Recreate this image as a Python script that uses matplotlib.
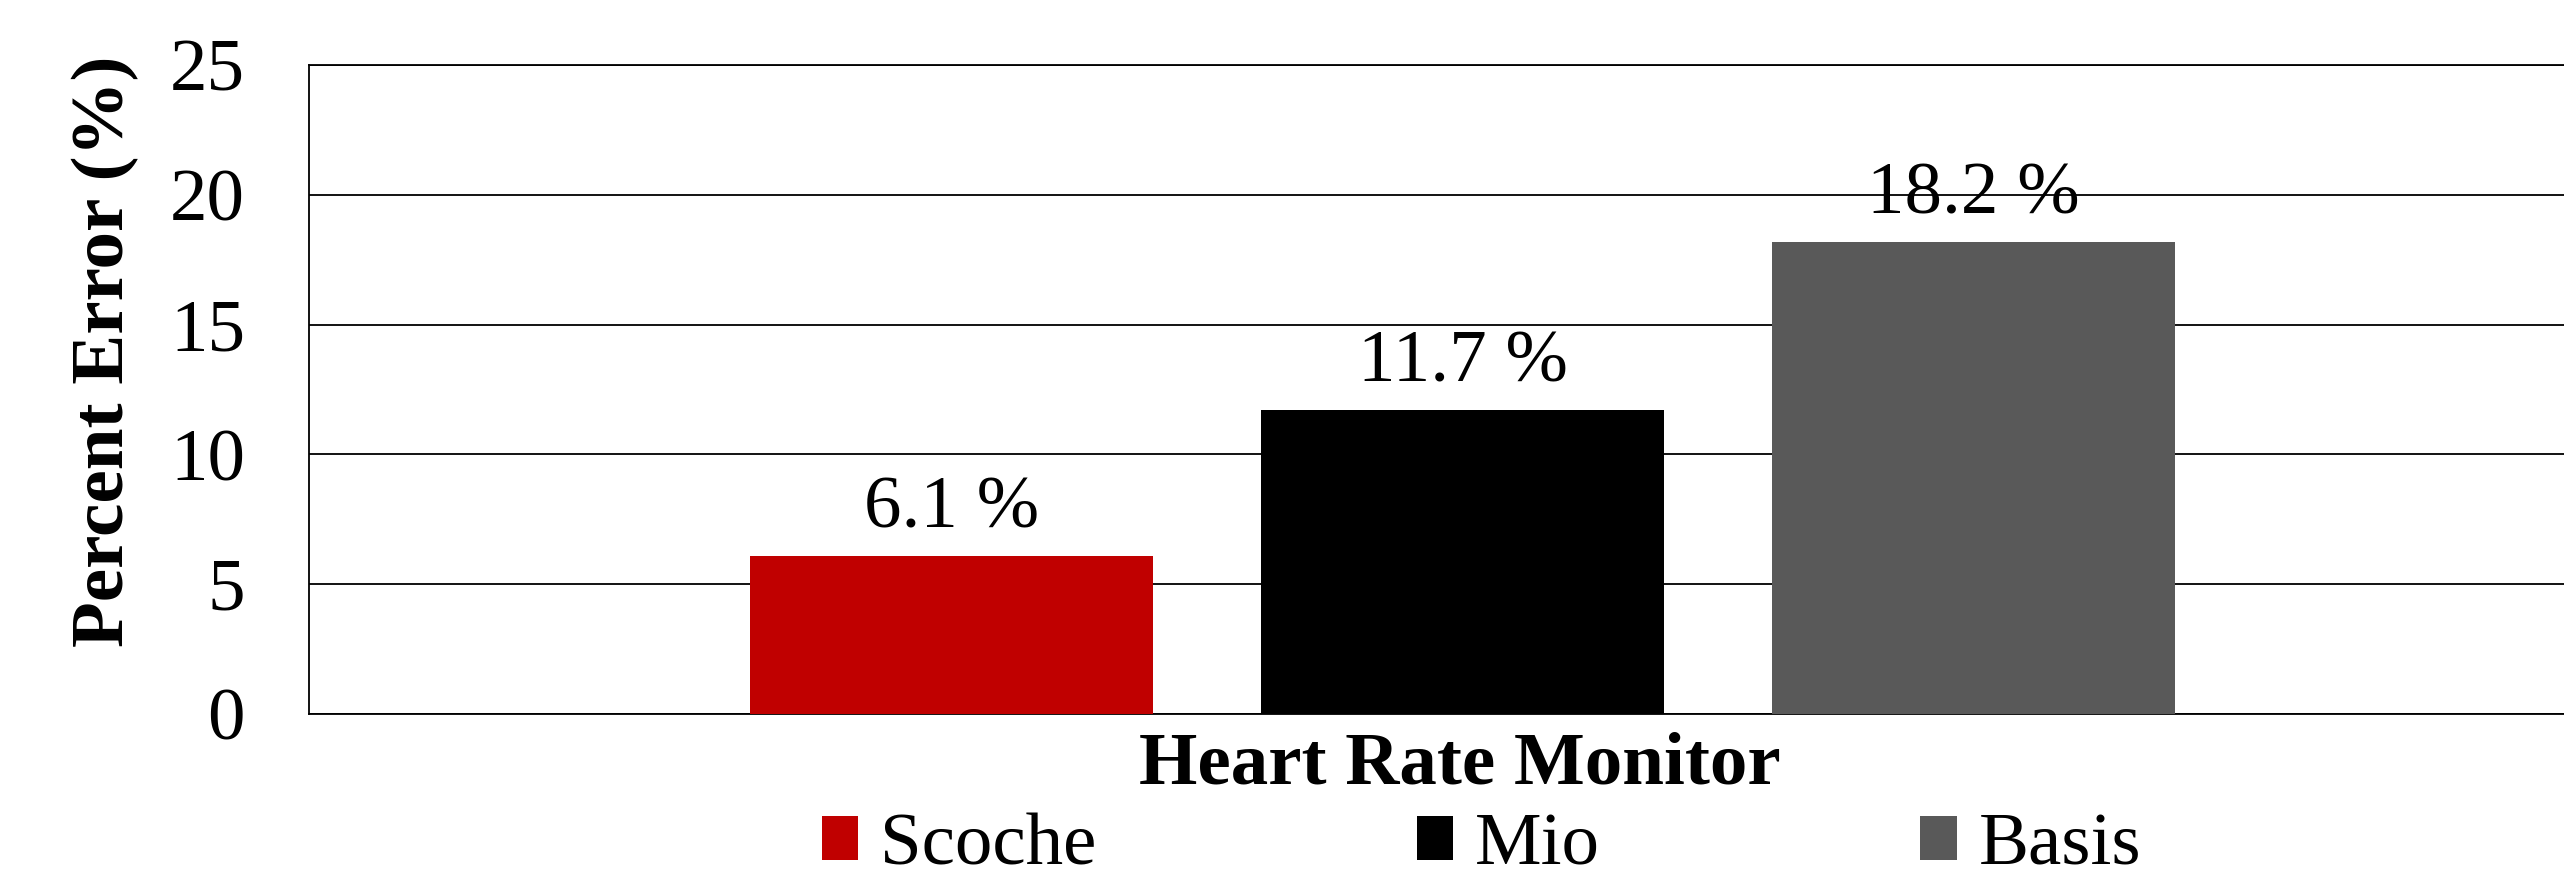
import matplotlib
matplotlib.use("Agg")
import matplotlib.pyplot as plt

# data
monitors = ["Scoche", "Mio", "Basis"]
percent_error = [6.1, 11.7, 18.2]
bar_colors = ["#C00000", "#000000", "#595959"]
y_ticks = [0, 5, 10, 15, 20, 25]

plt.rcParams["font.family"] = ["Liberation Serif", "DejaVu Serif"]
FS = 54

fig = plt.figure(figsize=(25.64, 8.81), dpi=100)
# plot area runs off the right edge, like the original export
ax = fig.add_axes([0.1205, 0.1896, 0.8998, 0.7366])

x = list(range(len(monitors)))
bars = []
for xi, name, val, col in zip(x, monitors, percent_error, bar_colors):
    b = ax.bar(xi, val, width=0.787, color=col, label=name, zorder=3)
    bars.append(b)
    ax.bar_label(b, labels=[f"{val:.1f} %"], padding=9, fontsize=FS)

ax.set_xlim(-1.257, 3.257)
ax.set_ylim(0, 25)
ax.set_yticks(y_ticks)
ax.set_xticks([])
ax.tick_params(axis="y", length=0, pad=46, labelsize=FS)

ax.grid(axis="y", color="black", linewidth=1.3, zorder=0)
ax.set_axisbelow(True)
for side in ["left", "bottom", "top"]:
    ax.spines[side].set_linewidth(1.3)
    ax.spines[side].set_color("black")
ax.spines["right"].set_visible(False)

ax.set_ylabel("Percent Error (%)", fontsize=FS, fontweight="bold", va="center")
ax.yaxis.set_label_coords(105 / 2564, 1 - 351 / 881, transform=fig.transFigure)
ax.set_xlabel("Heart Rate Monitor", fontsize=FS, fontweight="bold", va="center")
ax.xaxis.set_label_coords(1460 / 2564, 1 - 766 / 881, transform=fig.transFigure)

fig.legend(loc="center", bbox_to_anchor=(1481.5 / 2564, 1 - 847 / 881),
           ncol=3, frameon=False, fontsize=FS, borderpad=0,
           handlelength=0.49, handleheight=0.53, handletextpad=0.29,
           columnspacing=4.27)

fig.savefig("out.png", dpi=100, facecolor="white")
